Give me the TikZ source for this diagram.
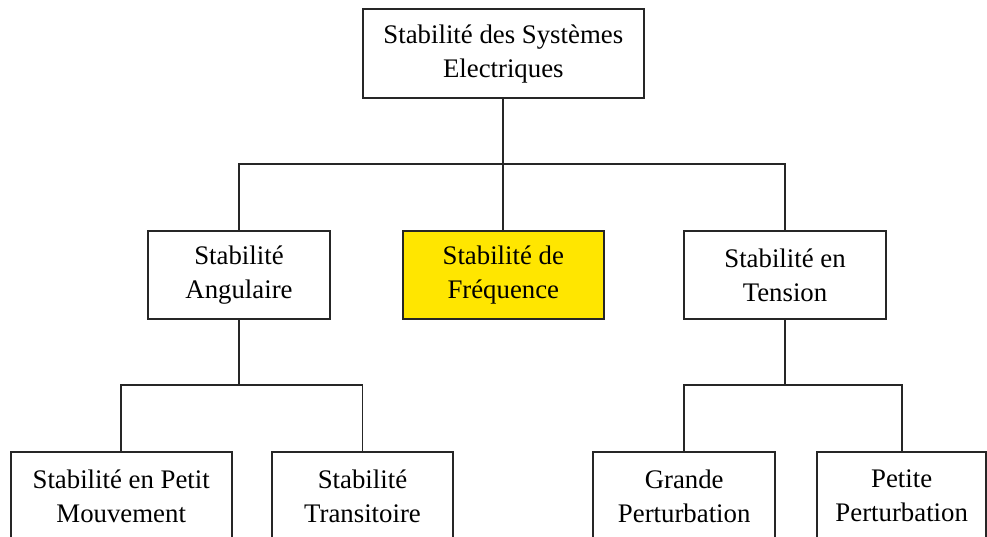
\documentclass[tikz,border=0pt]{standalone}
\usepackage{fontspec}
\setmainfont{Liberation Serif}
\definecolor{boxyellow}{HTML}{FFE600}
\begin{document}
\begin{tikzpicture}[x=1pt,y=-1pt,
  box/.style={draw=black!85, line width=1.8pt, rectangle, align=center, inner sep=0pt,
    minimum height=88pt, font=\fontsize{26.8}{34}\selectfont},
  link/.style={draw=black!85, line width=1.8pt}]
\useasboundingbox (0,0) rectangle (987,537);
\clip (0,0) rectangle (987,537);
\fill[white] (0,0) rectangle (987,537);
\node[box, minimum width=281pt, minimum height=89pt] (top) at (503.3,53.8) {Stabilité des Systèmes\\Electriques};
\node[box, minimum width=181.6pt] (ang) at (239,275) {Stabilité\\Angulaire};
\node[box, minimum width=201pt, fill=boxyellow] (freq) at (503.3,275) {Stabilité de\\Fréquence};
\node[box, minimum width=201.4pt] (ten) at (785,275) {Stabilité en\\Tension};
\node[box, minimum width=221pt] (pm) at (121.2,496) {Stabilité en Petit\\Mouvement};
\node[box, minimum width=181.6pt] (tr) at (362.5,496) {Stabilité\\Transitoire};
\node[box, minimum width=181.7pt] (gp) at (684.2,496) {Grande\\Perturbation};
\node[box, minimum width=169pt] (pp) at (901.7,496) {Petite\\Perturbation};
\coordinate (j1) at (503.3,164);
\coordinate (j2) at (239,385);
\coordinate (j3) at (785,385);
\draw[link] (top.south) -- (freq.north);
\draw[link] (ang.north) -- (ang.north |- j1) -- (ten.north |- j1) -- (ten.north);
\draw[link] (ang.south) -- (j2);
\draw[link] (pm.north) -- (pm.north |- j2) -- (tr.north |- j2) -- (tr.north);
\draw[link] (ten.south) -- (j3);
\draw[link] (gp.north) -- (gp.north |- j3) -- (pp.north |- j3) -- (pp.north);
\end{tikzpicture}
\end{document}
